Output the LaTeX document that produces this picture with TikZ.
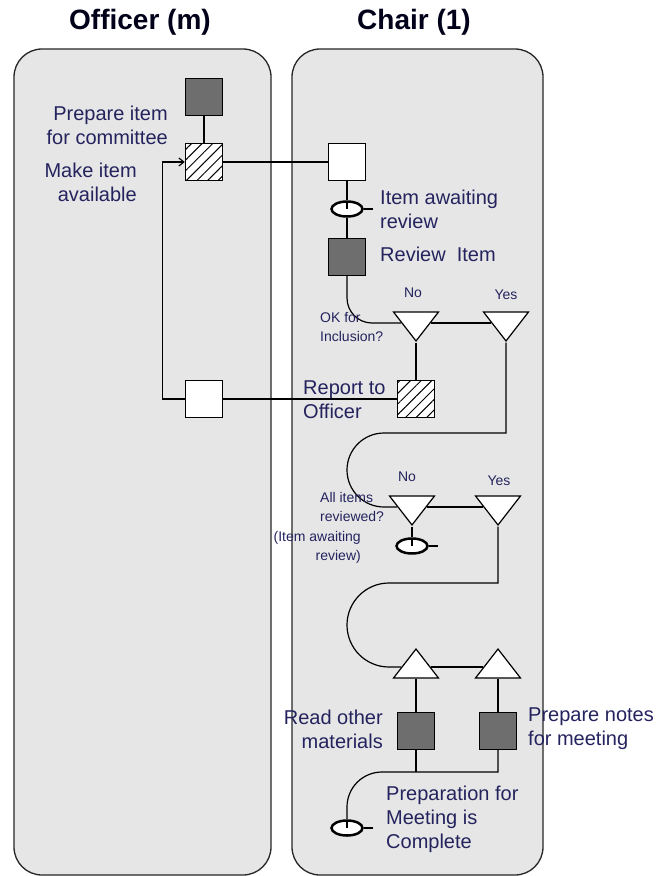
\documentclass[tikz,border=0pt]{standalone}
\usepackage{fontspec}
\setmainfont{Liberation Sans}
\usetikzlibrary{arrows.meta,positioning,shapes.geometric,patterns.meta}
\definecolor{lanefill}{HTML}{E6E6E6}
\definecolor{actfill}{HTML}{6E6E6E}
\definecolor{labelcol}{HTML}{24235E}
\pgfdeclarelayer{lanes}
\pgfdeclarelayer{wires}
\pgfsetlayers{lanes,wires,main}

\tikzset{
  lane/.style={fill=lanefill,draw=black!85,line width=1.3pt,rounded corners=28pt},
  lanetitle/.style={font=\fontsize{28}{30}\selectfont\bfseries,text=black!90!blue,inner sep=0pt},
  lbl/.style={font=\fontsize{20}{24}\selectfont,text=labelcol,inner sep=0pt},
  sml/.style={font=\fontsize{14}{19}\selectfont,text=labelcol,inner sep=0pt},
  actbox/.style={draw,line width=1.4pt,minimum size=37pt,inner sep=0pt},
  act/.style={actbox,fill=actfill},
  waitbox/.style={actbox,fill=white},
  handoff/.style={actbox,fill=white,postaction={pattern={Lines[angle=45,distance=7.5pt,line width=1pt]}}},
  trdown/.style={draw,fill=white,line width=1.2pt,isosceles triangle,isosceles triangle stretches,
    shape border rotate=270,minimum width=45pt,minimum height=29pt,inner sep=0pt},
  trup/.style={trdown,shape border rotate=90},
  waitstate/.style={ellipse,draw,fill=white,line width=2.5pt,minimum width=31pt,minimum height=15pt,inner sep=0pt,
    path picture={\draw[line width=1.2pt] (path picture bounding box.north) -- (path picture bounding box.center);}},
  wire/.style={line width=1.2pt},
  tail/.style={line width=2.5pt}
}

\begin{document}
\begin{tikzpicture}[x=1pt,y=-1pt]
  \useasboundingbox (0,0) rectangle (666,876);
  \begin{pgfonlayer}{lanes}
    \draw[lane] (14,49) rectangle (271,875);
    \draw[lane] (292,49) rectangle (543,875);
  \end{pgfonlayer}
  \node[lanetitle] (officer) at (140,22) {Officer (m)};
  \node[lanetitle] (chair) at (414,22) {Chair (1)};

  % officer lane
  \node[act] (prep) at (204,97) {};
  \node[handoff] (make) at (204,162) {};
  \node[waitbox] (back) at (204,399) {};
  \node[lbl,align=right,anchor=east] (prepL) at (168,125) {Prepare item\\for committee};
  \node[lbl,align=right,anchor=east] (makeL) at (137,182) {Make item\\available};

  % chair lane
  \node[waitbox] (awaitbox) at (347,162) {};
  \node[waitstate] (waitA) at (347,209) {};
  \node[act] (review) at (347,257) {};
  \node[trdown] (okno) at (416,323) {};
  \node[trdown] (okyes) at (506,323) {};
  \node[handoff] (report) at (416,399) {};
  \node[trdown] (allno) at (412,507) {};
  \node[trdown] (allyes) at (498,507) {};
  \node[waitstate] (waitB) at (412,546) {};
  \node[trup] (joinA) at (416,667) {};
  \node[trup] (joinB) at (498,667) {};
  \node[act] (readmat) at (416,731) {};
  \node[act] (notes) at (498,731) {};
  \node[waitstate] (done) at (347,828) {};

  \node[lbl,align=left,anchor=west] (awaitL) at (380,209) {Item awaiting\\review};
  \node[lbl,anchor=west] (reviewL) at (380,254) {Review\ \ Item};
  \node[sml] (oknoL) at (413,293) {No};
  \node[sml] (okyesL) at (506,295) {Yes};
  \node[sml,align=left,anchor=west] (okL) at (320,327) {OK for\\Inclusion?};
  \node[lbl,align=left,anchor=west] (reportL) at (303,400) {Report to\\Officer};
  \node[sml] (allnoL) at (407,477) {No};
  \node[sml] (allyesL) at (499,481) {Yes};
  \node[sml,align=left,anchor=west] (allL) at (320,507) {All items\\reviewed?};
  \node[sml,align=right,anchor=east] (waitBL) at (361,547) {(Item awaiting\\review)};
  \node[lbl,align=right,anchor=east] (readL) at (383,729) {Read other\\materials};
  \node[lbl,align=left,anchor=west] (notesL) at (528,729) {Prepare notes\\for meeting};
  \node[lbl,align=left,anchor=west] (doneL) at (386,819) {Preparation for\\Meeting is\\Complete};

  \draw[tail] (waitA.east) -- ++(9,0);
  \draw[tail] (waitB.east) -- ++(9,0);
  \draw[tail] (done.east) -- ++(9,0);

  \begin{pgfonlayer}{wires}
    \draw[wire] (prep) -- (make);
    \draw[wire] (make) -- (awaitbox);
    \draw[wire] (awaitbox) -- (waitA);
    \draw[wire] (waitA) -- (review);
    \draw[wire,rounded corners=25pt] (review) |- (okno);
    \draw[wire] (okno) -- (okyes);
    \draw[wire] (okno) -- (report);
    \draw[wire] (report) -- (back);
    \draw[wire,-{Straight Barb[length=5pt,width=8pt]}] (back.west) -- ++(-22,0) |- (make.west);
    \draw[wire] (okyes) |- (384,433) arc[start angle=270,end angle=90,radius=37] -- (allno);
    \draw[wire] (allno) -- (allyes);
    \draw[wire] (allno) -- (waitB);
    \draw[wire] (allyes) |- (389,583) arc[start angle=270,end angle=90,radius=42] -- (joinA);
    \draw[wire] (joinA) -- (joinB);
    \draw[wire] (joinA) -- (readmat);
    \draw[wire] (joinB) -- (notes);
    \draw[wire] (notes) |- (382,772) arc[start angle=270,end angle=180,radius=35] -- (done);
    \draw[wire] (readmat) -- (readmat |- notes.south) -- ++(0,22);
  \end{pgfonlayer}
\end{tikzpicture}
\end{document}
